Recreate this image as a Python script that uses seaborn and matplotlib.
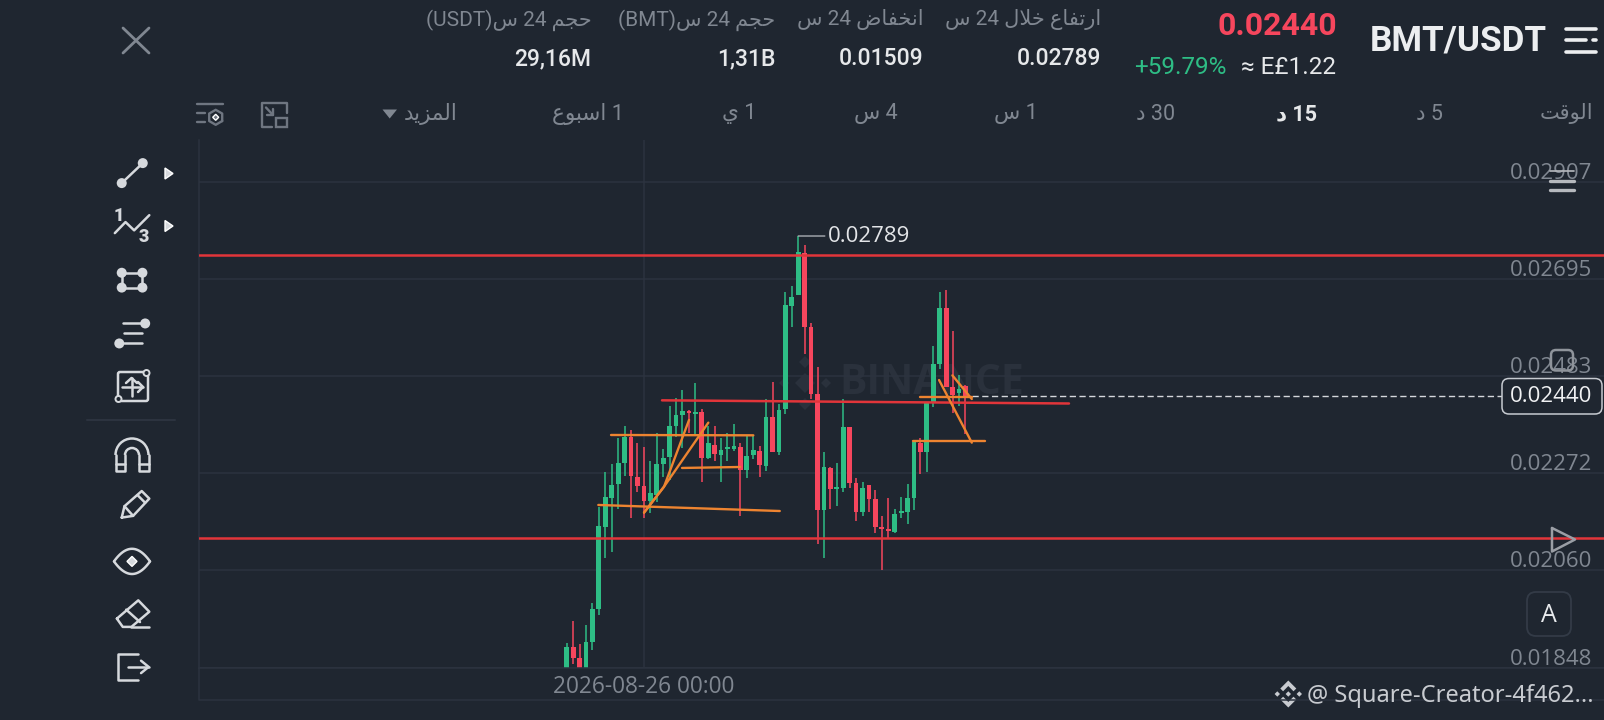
import re
import numpy as np
import pandas as pd
import matplotlib
matplotlib.use("Agg")
import matplotlib.pyplot as plt
import seaborn as sns
from matplotlib.patches import Circle, FancyBboxPatch, Polygon, Arc, Rectangle
from matplotlib.transforms import ScaledTranslation

# candles, 15 min
price_open = [.018300, .018935, .018682, .018400, .019045, .019750, .021553, .022186, .022484, .022934,
              .023516, .022643, .022440, .022120, .022244, .022912, .023080, .023756, .023996, .024076,
              .024010, .024061, .023043, .023341, .023109, .023247, .023254, .023291, .022789, .023109,
              .023211, .022876, .023937, .023174, .024112, .026373, .026605, .027514, .025915, .024439,
              .021916, .022839, .022367, .022389, .023719, .022512, .021880, .022454, .022149, .021545,
              .021494, .021444, .021843, .021880, .022170, .023370, .023188, .024264, .025100, .026329,
              .024599, .024475, .024628]
price_high = [.019022, .019495, .018994, .019408, .019881, .021989, .022753, .022912, .023487, .023749,
              .023661, .023370, .023283, .022985, .023589, .023240, .024192, .024352, .024534, .024098,
              .024679, .024112, .023749, .023749, .023487, .023589, .023785, .023370, .023552, .023530,
              .023312, .024330, .024701, .024228, .026663, .026802, .027892, .027696, .026002, .025035,
              .023181, .022847, .022941, .024330, .023730, .022607, .022520, .022454, .022345, .021785,
              .022178, .021938, .022192, .022476, .023392, .023486, .024279, .025493, .026671, .026707,
              .025820, .024860, .024642]
price_low = [.018200, .018558, .018200, .018300, .018863, .019626, .020862, .021008, .021946, .022658,
             .021735, .022316, .021749, .021844, .022098, .022643, .022571, .023516, .023276, .023589,
             .023552, .022534, .023022, .022985, .022534, .022985, .023203, .021793, .022622, .023036,
             .022629, .022774, .023174, .023116, .024010, .025915, .026605, .025318, .024337, .021167,
             .020876, .021945, .022011, .022316, .022389, .021683, .021793, .021865, .021422, .020600,
             .021298, .021422, .021734, .021611, .021909, .022701, .022738, .024155, .024991, .024606,
             .024039, .024192, .023574]
price_close = [.018935, .018688, .018300, .019044, .019750, .021568, .022193, .022462, .022934, .023516,
               .022665, .022447, .022113, .022295, .022912, .023058, .023756, .023988, .024083, .024025,
               .024054, .023058, .023370, .023138, .023225, .023291, .023312, .022789, .023094, .023225,
               .022898, .023937, .023188, .024104, .026380, .026569, .027550, .025915, .024446, .021916,
               .022847, .022367, .022410, .023719, .022498, .021880, .022403, .022149, .021553, .021502,
               .021451, .021836, .021887, .022185, .023392, .023188, .024257, .025100, .026329, .024606,
               .024424, .024562, .024400]

y_ticks = [.01848, .02060, .02272, .02483, .02695, .02907]
y_tick_labels = ["0.01848", "0.02060", "0.02272", "0.02483", "0.02695", "0.02907"]
time_tick = [12]
time_tick_label = ["2026-08-26 00:00"]

# hand drawn levels on the chart
red_levels = [.027478, .021313]
red_id = [0, 0]
red_x = [14.82, 78.1]
red_y = [.024308, .024239]
orange_id = [0, 0, 1, 1, 2, 2, 3, 3, 3, 4, 4, 4, 5, 5, 6, 6, 7, 7, 8, 8]
orange_x = [6.89, 29.02, 4.91, 33.13, 17.93, 26.95, 12.02, 15.13, 19.02, 12.02, 15.13, 22.02,
            54.95, 62.99, 53.9, 65.05, 57.9, 62.99, 59.97, 62.99]
orange_y = [.023552, .023545, .022026, .021894, .022833, .022854, .021858, .022425, .023879,
            .021858, .022425, .023821, .024381, .024381, .023421, .023421, .024751, .023385,
            .024853, .024337]

header_labels = ["ارتفاع خلال 24 س", "انخفاض 24 س", "حجم 24 س(BMT)", "حجم 24 س(USDT)"]
header_values = ["0.02789", "0.01509", "1,31B", "29,16M"]
intervals = ["5 د", "15 د", "30 د", "1 س", "4 س", "1 ي", "1 اسبوع", "المزيد"]

BG = "#1f2630"
GRID = "#2c333f"
GREEN = "#2ebd85"
RED = "#f6465d"
LINE_RED = "#e2353a"
ORANGE = "#ee8430"
GREY = "#808791"
ICON = "#d6d9dd"

AR_FONT = ["Roboto", "DejaVu Sans"]
TICK_FONT = ["Open Sans", "DejaVu Sans"]

# matplotlib has no arabic shaping, so map to presentation forms and lay out visually
FORMS = {"ا": (0xFE8D, 0xFE8E), "ر": (0xFEAD, 0xFEAE), "د": (0xFEA9, 0xFEAA), "ز": (0xFEAF, 0xFEB0),
         "و": (0xFEED, 0xFEEE), "ت": (0xFE95, 0xFE96, 0xFE97, 0xFE98), "ف": (0xFED1, 0xFED2, 0xFED3, 0xFED4),
         "ع": (0xFEC9, 0xFECA, 0xFECB, 0xFECC), "خ": (0xFEA5, 0xFEA6, 0xFEA7, 0xFEA8),
         "ل": (0xFEDD, 0xFEDE, 0xFEDF, 0xFEE0), "س": (0xFEB1, 0xFEB2, 0xFEB3, 0xFEB4),
         "ن": (0xFEE5, 0xFEE6, 0xFEE7, 0xFEE8), "ض": (0xFEBD, 0xFEBE, 0xFEBF, 0xFEC0),
         "ح": (0xFEA1, 0xFEA2, 0xFEA3, 0xFEA4), "ج": (0xFE9D, 0xFE9E, 0xFE9F, 0xFEA0),
         "م": (0xFEE1, 0xFEE2, 0xFEE3, 0xFEE4), "ق": (0xFED5, 0xFED6, 0xFED7, 0xFED8),
         "ي": (0xFEF1, 0xFEF2, 0xFEF3, 0xFEF4), "ب": (0xFE8F, 0xFE90, 0xFE91, 0xFE92)}


def shape(word):
    out = []
    i = 0
    while i < len(word):
        c = word[i]
        prev_joins = i > 0 and len(FORMS[word[i - 1]]) == 4
        if c == "ل" and i + 1 < len(word) and word[i + 1] == "ا":
            out.append(chr(0xFEFC if prev_joins else 0xFEFB))
            i += 2
            continue
        forms = FORMS[c]
        next_joins = i + 1 < len(word) and len(forms) == 4
        if prev_joins and next_joins:
            out.append(chr(forms[3]))
        elif next_joins:
            out.append(chr(forms[2]))
        elif prev_joins:
            out.append(chr(forms[1]))
        else:
            out.append(chr(forms[0]))
        i += 1
    return "".join(reversed(out))


def ar(text):
    tokens = re.findall(r"[\u0600-\u06FF]+|[^\u0600-\u06FF\s]+|\s+", text)
    return "".join(shape(t) if t[0] in FORMS else t for t in reversed(tokens))


sns.set_theme(style="dark", rc={"figure.facecolor": BG, "axes.facecolor": BG, "axes.edgecolor": GRID})
plt.rcParams["font.family"] = TICK_FONT

df = pd.DataFrame({"idx": range(len(price_open)), "open": price_open, "high": price_high,
                   "low": price_low, "close": price_close})
df["top"] = df[["open", "close"]].max(axis=1)
df["bottom"] = df[["open", "close"]].min(axis=1)
df["body"] = df["top"] - df["bottom"]
df["up"] = df["close"] >= df["open"]

fig = plt.figure(figsize=(16.04, 7.2), dpi=100)
ax = fig.add_axes([198.5 / 1604, (720 - 668) / 720, (1604 - 198.5) / 1604, (668 - 140) / 720])
ov = fig.add_axes([0, 0, 1, 1], facecolor="none")
ov.set_xlim(0, 1604)
ov.set_ylim(720, 0)
ov.axis("off")

# faint watermark under the candles
wm = "#2a313c"
ax.text(839, 384, "BINANCE", transform=ov.transData, color=wm, fontsize=29.5, fontweight="bold",
        family=TICK_FONT, va="center", ha="left", zorder=0.5)
for cx, cy, r in [(805, 383, 10), (805, 362, 6), (805, 404, 6), (784, 383, 5), (826, 383, 5)]:
    ax.add_patch(Polygon([(cx - r, cy), (cx, cy - r), (cx + r, cy), (cx, cy + r)], closed=True,
                         transform=ov.transData, facecolor=wm, edgecolor="none", zorder=0.5))

# candles
for up, col in [(True, GREEN), (False, RED)]:
    sub = df[df["up"] == up]
    ax.vlines(sub["idx"], sub["low"], sub["high"], color=col, linewidth=1.1, zorder=2)
    sns.barplot(data=sub, x="idx", y="body", bottom=sub["bottom"].values, color=col, native_scale=True,
                width=0.74, errorbar=None, saturation=1, linewidth=0, ax=ax, zorder=2)

# drawn levels
for lvl in red_levels:
    ax.axhline(lvl, color=LINE_RED, linewidth=1.8, zorder=4)
sns.lineplot(x=red_x, y=red_y, units=red_id, estimator=None, sort=False, color=LINE_RED,
             linewidth=1.8, ax=ax, zorder=4)
sns.lineplot(x=orange_x, y=orange_y, units=orange_id, estimator=None, sort=False, color=ORANGE,
             linewidth=1.7, ax=ax, zorder=5)
ax.plot([df["idx"].iloc[-1] + 1, 161.3], [price_close[-1]] * 2, color="#d4d7db", linewidth=1,
        dashes=(4.5, 2.5), zorder=3)

ax.annotate("0.02789", xy=(36, max(price_high)), xytext=(21.5, 0), textcoords="offset points", va="center",
            color="#e3e5e8", fontsize=16, arrowprops=dict(arrowstyle="-", color="#a9adb3", lw=1,
                                                          shrinkA=0, shrinkB=0), zorder=6)

# axes
ax.set_xlim(-57.26, 161.3)
ax.set_ylim(.018470, .029986)
ax.set_xlabel("")
ax.set_ylabel("")
ax.set_xticks(time_tick)
ax.set_xticklabels(time_tick_label, color=GREY, fontsize=16.3)
ax.yaxis.tick_right()
ax.set_yticks(y_ticks)
ax.set_yticklabels(y_tick_labels, color=GREY, fontsize=16)
ax.tick_params(axis="y", length=0, pad=-8.2)
ax.tick_params(axis="x", length=0, pad=5)
nudge = ScaledTranslation(0, -1.5 / 72, fig.dpi_scale_trans)
for lab in ax.get_yticklabels():
    lab.set_ha("right")
    lab.set_va("bottom")
    lab.set_transform(lab.get_transform() + nudge)
ax.grid(True, axis="both", color=GRID, linewidth=1.1)
ax.set_axisbelow(True)
for side in ["top", "right"]:
    ax.spines[side].set_visible(False)
for side in ["left", "bottom"]:
    ax.spines[side].set_color(GRID)
    ax.spines[side].set_linewidth(1.1)
ov.plot([198.5, 198.5, 1604], [668, 699.5, 699.5], color=GRID, linewidth=1.1)

# header
for lab, val, right in zip(header_labels, header_values, [1101, 923.7, 775.4, 591.3]):
    ov.text(right, 20, ar(lab), ha="right", va="center", color=GREY, fontsize=15, family=AR_FONT)
    ov.text(right, 58.5, val, ha="right", va="center", color="#e6e8ea", fontsize=16.5, family=AR_FONT, fontweight="medium")
ov.text(1337, 26, "0.02440", ha="right", va="center", color=RED, fontsize=23, family=AR_FONT, fontweight="bold")
ov.text(1226, 67, "+59.79%", ha="right", va="center", color=GREEN, fontsize=17.5, family=AR_FONT)
ov.text(1336, 67, "≈ E£1.22", ha="right", va="center", color="#e6e8ea", fontsize=17.5, family=AR_FONT)
ov.text(1547, 41, "BMT/USDT", ha="right", va="center", color="#eceef0", fontsize=25.2, family=AR_FONT, fontweight="bold")

# interval row
ov.text(1593, 114, ar("الوقت"), ha="right", va="center", color=GREY, fontsize=15, family=AR_FONT)
for lab, cx in zip(intervals, [1429, 1296, 1155.6, 1016, 875.6, 739, 588, 430.6]):
    active = lab == "15 د"
    ov.text(cx, 114, ar(lab), ha="center", va="center", color="#e6e8ea" if active else GREY,
            fontsize=15.5, family=AR_FONT, fontweight="bold" if active else "normal")
ov.add_patch(Polygon([(382.5, 109.5), (397, 109.5), (389.7, 118.5)], closed=True, facecolor=GREY, edgecolor="none"))


def poly(pts, col=ICON, lw=1.8):
    xs, ys = zip(*pts)
    ov.plot(xs, ys, color=col, linewidth=lw, solid_capstyle="round", solid_joinstyle="round")


def dot(x, y, r=5, col=ICON):
    ov.add_patch(Circle((x, y), r, facecolor=col, edgecolor="none"))


def z(pts):
    # toolbar sketch coordinates to screen pixels
    return [(90 + a / 2.9, 140 + b / 2.9) for a, b in pts]


# close cross and menu
poly([(123, 28), (149, 53)], GREY, 2)
poly([(149, 28), (123, 53)], GREY, 2)
poly([(1566, 29), (1596, 29)], "#eceef0", 2.6)
poly([(1566, 40), (1586, 40)], "#eceef0", 2.6)
poly([(1593, 40), (1596, 40)], "#eceef0", 2.6)
poly([(1566, 52), (1596, 52)], "#eceef0", 2.6)

# settings and layout icons
ic = "#6f7681"
poly([(197, 104), (223, 104)], ic, 1.7)
poly([(197, 112.7), (205, 112.7)], ic, 1.7)
poly([(197, 122), (205, 122)], ic, 1.7)
ang = np.deg2rad(np.arange(30, 391, 60))
poly(list(zip(215.7 + 7.5 * np.cos(ang), 117.3 + 7.5 * np.sin(ang))), ic, 1.7)
ov.add_patch(Polygon([(212.7, 117.3), (215.7, 114.3), (218.7, 117.3), (215.7, 120.3)], closed=True, facecolor=ic))
poly([(272, 127), (261.7, 127), (261.7, 102.7), (286.7, 102.7), (286.7, 113)], ic, 1.7)
ov.add_patch(Rectangle((276, 118.3), 10.7, 9, facecolor="none", edgecolor=ic, linewidth=1.7))
poly([(266, 107.5), (273, 115)], ic, 1.7)
poly([(273, 109), (273, 115), (267, 115)], ic, 1.7)

# left toolbar
poly(z([(92, 125), (153, 67)]))
dot(*z([(92, 125)])[0])
dot(*z([(153, 67)])[0])
ov.add_patch(Polygon([(165, 168), (165, 179), (173, 173.5)], closed=True, facecolor=ICON))
ov.add_patch(Polygon([(165, 220.5), (165, 231.5), (173, 226)], closed=True, facecolor=ICON))
poly(z([(72, 270), (103, 238), (128, 262), (172, 218)]))
ov.text(118.5, 216, "1", ha="center", va="center", color=ICON, fontsize=13, fontweight="black", family=AR_FONT)
ov.text(144, 237, "3", ha="center", va="center", color=ICON, fontsize=13, fontweight="black", family=AR_FONT)
corners = z([(92, 385), (152, 385), (152, 428), (92, 428), (92, 385)])
poly(corners)
for cx, cy in corners[:4]:
    dot(cx, cy)
poly(z([(95, 532), (150, 532)]))
poly(z([(100, 560), (152, 560)]))
poly(z([(100, 590), (152, 590)]))
dot(*z([(160, 532)])[0])
dot(*z([(85, 590)])[0])
ov.add_patch(FancyBboxPatch((118, 372), 30, 29, boxstyle="round,pad=0,rounding_size=2", facecolor="none",
                            edgecolor=ICON, linewidth=1.8))
ov.add_patch(Circle((146.5, 373), 3, facecolor=BG, edgecolor=ICON, linewidth=1.4, zorder=5))
ov.add_patch(Circle((118.5, 399), 3, facecolor=BG, edgecolor=ICON, linewidth=1.4, zorder=5))
poly([(131.5, 378), (131.5, 396)])
poly([(126, 383), (131.5, 378), (137, 383)])
poly([(122, 387), (143, 387)])
poly([(138, 382), (143, 387), (138, 392)])
ov.plot([87, 175], [419.5, 419.5], color=GRID, linewidth=1.5)
ov.add_patch(Arc((132, 455), 33, 33, theta1=180, theta2=360, color=ICON, linewidth=1.8))
ov.add_patch(Arc((132, 455), 14, 14, theta1=180, theta2=360, color=ICON, linewidth=1.8))
poly([(115.5, 455), (115.5, 471), (125, 471), (125, 455)])
poly([(139, 455), (139, 471), (148.5, 471), (148.5, 455)])
poly([(115.5, 464), (125, 464)])
poly([(139, 464), (148.5, 464)])
poly(z([(92, 1095), (100, 1062), (150, 1018), (172, 1040), (125, 1090), (92, 1095)]))
poly(z([(138, 1030), (160, 1052)]))
poly(z([(100, 1062), (125, 1090)]))
t = np.linspace(-1, 1, 30)
poly(list(zip(132 + 18 * t, 561.4 - 12.6 * (1 - t ** 2))))
poly(list(zip(132 + 18 * t, 561.4 + 12.6 * (1 - t ** 2))))
ov.add_patch(Polygon([(127, 561.4), (132, 556.4), (137, 561.4), (132, 566.4)], closed=True, facecolor=ICON))
poly(z([(78, 1388), (140, 1335), (172, 1368), (120, 1412), (95, 1412), (78, 1388)]))
poly(z([(120, 1412), (170, 1412)]))
poly(z([(105, 1362), (145, 1398)]))
poly(z([(140, 1490), (80, 1490), (80, 1565), (140, 1565)]))
poly(z([(110, 1528), (170, 1528)]))
poly(z([(148, 1510), (170, 1528), (148, 1546)]))

# right side overlays
over = "#b6b9be"
poly([(1550, 170.7), (1574, 170.7)], over, 1.2)
poly([(1550, 180.7), (1574, 180.7)], over, 2.4)
poly([(1550, 190.3), (1574, 190.3)], over, 2.4)
ov.add_patch(FancyBboxPatch((1551, 350), 22, 20.5, boxstyle="round,pad=0,rounding_size=5", facecolor="none",
                            edgecolor="#8f949b", linewidth=1.8))
ov.add_patch(FancyBboxPatch((1502, 378.5), 100, 35.5, boxstyle="round,pad=0,rounding_size=7", facecolor=BG,
                            edgecolor="#c7cbd1", linewidth=1.1))
ov.text(1592, 396.5, "0.02440", ha="right", va="center", color="#f0f1f3", fontsize=16, family=TICK_FONT)
poly([(1552, 528), (1575, 539.5), (1552, 551.5), (1552, 528)], "#9a9ea5", 1.8)
ov.add_patch(FancyBboxPatch((1527, 592), 44, 44, boxstyle="round,pad=0,rounding_size=9", facecolor=BG,
                            edgecolor="#333b47", linewidth=1.3))
ov.text(1549, 615, "A", ha="center", va="center", color="#e8eaed", fontsize=18, family=TICK_FONT)

# footer watermark, binance mark
logo = "#c8cbd0"
lx, ly = 1288.3, 694
chevron = [(0, -13.5), (8, -5.5), (5.2, -2.7), (0, -8), (-5.2, -2.7), (-8, -5.5)]
ov.add_patch(Polygon([(lx + a, ly + b) for a, b in chevron], closed=True, facecolor=logo, edgecolor="none"))
ov.add_patch(Polygon([(lx + a, ly - b) for a, b in chevron], closed=True, facecolor=logo, edgecolor="none"))
for cx in [lx - 11, lx, lx + 11]:
    ov.add_patch(Polygon([(cx - 2.7, ly), (cx, ly - 2.7), (cx + 2.7, ly), (cx, ly + 2.7)], closed=True,
                         facecolor=logo, edgecolor="none"))
ov.text(1307, 695.5, "@ Square-Creator-4f462...", ha="left", va="center", color=logo, fontsize=17, family="Noto Sans")

fig.savefig("out.png", dpi=100)
